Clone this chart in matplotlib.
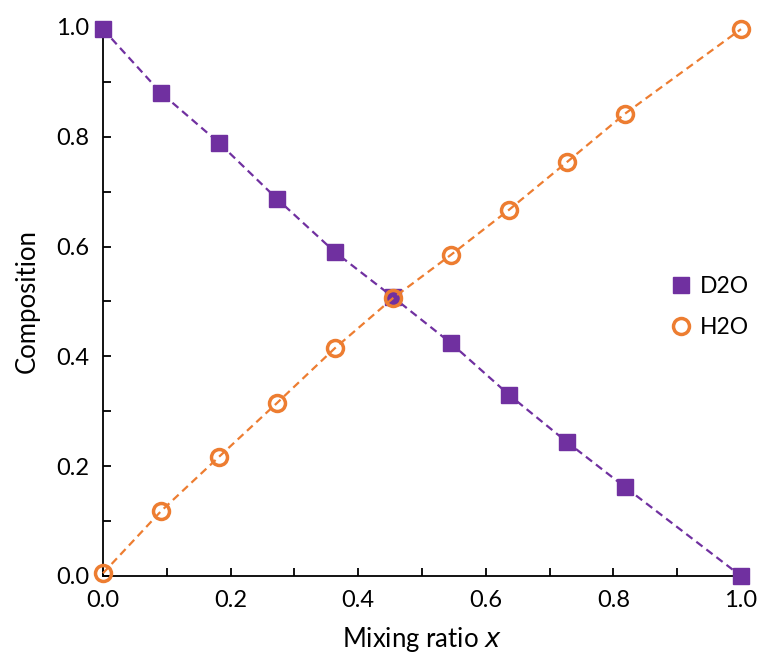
import matplotlib.pyplot as plt
from matplotlib.ticker import MultipleLocator

plt.rcParams['font.family'] = ['Lato', 'DejaVu Sans']

# mixing ratio steps (1/11) with the last point at 1.0
x = [0.0, 0.0909, 0.1818, 0.2727, 0.3636, 0.4545, 0.5455, 0.6364, 0.7273, 0.8182, 1.0]
d2o = [0.996, 0.880, 0.789, 0.687, 0.590, 0.508, 0.424, 0.330, 0.244, 0.162, 0.0]
h2o = [0.005, 0.118, 0.217, 0.315, 0.415, 0.506, 0.585, 0.667, 0.754, 0.842, 0.996]

purple = '#7030A0'
orange = '#ED7D31'

fig = plt.figure(figsize=(7.61, 6.61), dpi=100)
ax = fig.add_axes([0.1353, 0.1286, 0.8384, 0.8306])

ax.plot(x, d2o, color=purple, linestyle='--', dashes=(3.5, 2.2), linewidth=1.6, marker='s',
        markersize=11, markerfacecolor=purple, markeredgecolor=purple,
        label='D2O', clip_on=False, zorder=3)
ax.plot(x, h2o, color=orange, linestyle='--', dashes=(3.5, 2.2), linewidth=1.6, marker='o',
        markersize=11.5, markerfacecolor='none', markeredgecolor=orange,
        markeredgewidth=2.5, label='H2O', clip_on=False, zorder=4)

ax.set_xlim(0, 1)
ax.set_ylim(0, 1)
ax.xaxis.set_minor_locator(MultipleLocator(0.1))
ax.yaxis.set_minor_locator(MultipleLocator(0.1))
ax.tick_params(which='both', direction='in', length=6, width=1.3, labelsize=17, pad=10)
ax.set_xticks([0, 0.2, 0.4, 0.6, 0.8, 1.0])
ax.set_xticklabels(['0.0', '0.2', '0.4', '0.6', '0.8', '1.0'])
ax.set_yticks([0, 0.2, 0.4, 0.6, 0.8, 1.0])
ax.set_yticklabels(['0.0', '0.2', '0.4', '0.6', '0.8', '1.0'])

for s in ['top', 'right']:
    ax.spines[s].set_visible(False)
for s in ['left', 'bottom']:
    ax.spines[s].set_linewidth(1.3)

ax.set_xlabel('Mixing ratio $\\it{x}$', fontsize=18.5, labelpad=10)
ax.set_ylabel('Composition', fontsize=18.5, labelpad=12)

leg = ax.legend(loc='center left', bbox_to_anchor=(0.86, 0.49), frameon=False,
                fontsize=16.5, handlelength=0.8, handletextpad=0.4, labelspacing=0.9)
for h in leg.legend_handles:
    h.set_linestyle('none')

fig.savefig('out.png', dpi=100)
